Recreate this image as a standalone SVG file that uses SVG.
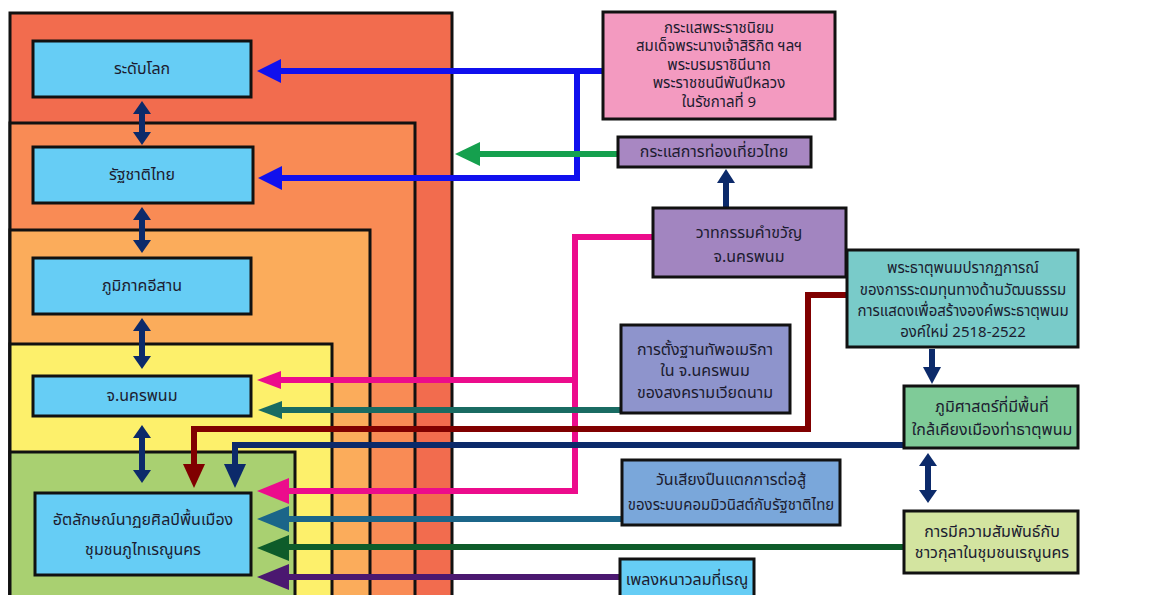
<svg xmlns="http://www.w3.org/2000/svg" width="1155" height="595" viewBox="0 0 1155 595">
<style>
.lvl{stroke:#111;stroke-width:3}
.node{stroke:#111;stroke-width:3}
.t{font-family:"Noto Sans Thai","Noto Sans","DejaVu Sans",sans-serif;font-size:16px;fill:#1c1c30;text-anchor:middle;dominant-baseline:central}
.s{font-size:15px}
.ln{fill:none;stroke-width:6;stroke-linejoin:miter}
.blue{stroke:#1010ee}.fblue{fill:#1010ee}
.green{stroke:#15a04e}.fgreen{fill:#15a04e}
.navy{stroke:#0c2a6a}.fnavy{fill:#0c2a6a}
.pink{stroke:#ec0c8c}.fpink{fill:#ec0c8c}
.teal{stroke:#196b62}.fteal{fill:#196b62}
.dred{stroke:#800000}.fdred{fill:#800000}
.bteal{stroke:#1b6589}.fbteal{fill:#1b6589}
.dgreen{stroke:#0e5c2a}.fdgreen{fill:#0e5c2a}
.purp{stroke:#4b1870}.fpurp{fill:#4b1870}
</style>
<rect width="1155" height="595" fill="#fff"/>
<g id="levels">
<rect class="lvl" x="10" y="13" width="442" height="620" fill="#f26c4e"/>
<rect class="lvl" x="10" y="123" width="405" height="520" fill="#f98b55"/>
<rect class="lvl" x="10" y="230" width="360" height="420" fill="#fbac5b"/>
<rect class="lvl" x="10" y="344" width="322" height="300" fill="#fdf06b"/>
<rect class="lvl" x="10" y="452" width="285" height="200" fill="#a9d071"/>
</g>
<g id="connectors">
<path class="ln blue" d="M604,71 H278"/>
<path class="ln blue" d="M577,71 V178 H279"/>
<polygon class="fblue" points="257,71 281,59 281,83"/>
<polygon class="fblue" points="258,178 282,166 282,190"/>
<path class="ln green" d="M618,154 H476"/>
<polygon class="fgreen" points="455,154 480,142 480,166"/>
<path class="ln navy" d="M726,208 V182"/>
<polygon class="fnavy" points="726,169 717,183 735,183"/>
<path class="ln pink" d="M653,237 H575 V491 H285"/>
<path class="ln pink" d="M575,380 H278"/>
<polygon class="fpink" points="257,380 281,371 281,389"/>
<polygon class="fpink" points="257,491 289,478 289,504"/>
<path class="ln teal" d="M621,410 H278"/>
<polygon class="fteal" points="258,410 282,401 282,419"/>
<path class="ln dred" d="M847,295 H808 V429 H194 V466"/>
<polygon class="fdred" points="194,488 183,464 205,464"/>
<path class="ln navy" d="M904,445 H235 V466"/>
<polygon class="fnavy" points="235,488 224,464 246,464"/>
<path class="ln bteal" d="M622,519 H285"/>
<polygon class="fbteal" points="257,519 289,506 289,532"/>
<path class="ln dgreen" d="M904,547 H285"/>
<polygon class="fdgreen" points="257,548 289,535 289,561"/>
<path class="ln purp" d="M620,577 H285"/>
<polygon class="fpurp" points="257,577 289,564 289,590"/>
<path class="ln navy" d="M142,110 V136"/>
<polygon class="fnavy" points="142,101 133,114 151,114"/>
<polygon class="fnavy" points="142,145 133,132 151,132"/>
<path class="ln navy" d="M142,216 V244"/>
<polygon class="fnavy" points="142,207 133,220 151,220"/>
<polygon class="fnavy" points="142,253 133,240 151,240"/>
<path class="ln navy" d="M142,327 V360"/>
<polygon class="fnavy" points="142,318 133,331 151,331"/>
<polygon class="fnavy" points="142,369 133,356 151,356"/>
<path class="ln navy" d="M142,434 V474"/>
<polygon class="fnavy" points="142,425 133,438 151,438"/>
<polygon class="fnavy" points="142,483 133,470 151,470"/>
<path class="ln navy" d="M928,462 V494"/>
<polygon class="fnavy" points="928,453 919,466 937,466"/>
<polygon class="fnavy" points="928,503 919,490 937,490"/>
<path class="ln navy" d="M932,349 V370"/>
<polygon class="fnavy" points="932,384 923,367 941,367"/>
</g>
<g id="n-world"><rect class="node" x="33" y="41" width="218" height="56" fill="#66cdf5"/><text class="t" x="142" y="69">ระดับโลก</text></g>
<g id="n-nation"><rect class="node" x="33" y="147" width="220" height="56" fill="#66cdf5"/><text class="t" x="142" y="175">รัฐชาติไทย</text></g>
<g id="n-isan"><rect class="node" x="33" y="258" width="218" height="56" fill="#66cdf5"/><text class="t" x="142" y="286">ภูมิภาคอีสาน</text></g>
<g id="n-nakhonphanom"><rect class="node" x="33" y="376" width="218" height="40" fill="#66cdf5"/><text class="t" x="142" y="396">จ.นครพนม</text></g>
<g id="n-identity"><rect class="node" x="35" y="493" width="216" height="82" fill="#66cdf5"/><text class="t" x="143" y="520">อัตลักษณ์นาฏยศิลป์พื้นเมือง</text><text class="t" x="143" y="550">ชุมชนภูไทเรณูนคร</text></g>
<g id="n-royal"><rect class="node" x="603" y="12" width="232" height="107" fill="#f39ac0"/>
<text class="t s" x="719" y="28">กระแสพระราชนิยม</text>
<text class="t s" x="719" y="46">สมเด็จพระนางเจ้าสิริกิต ฯลฯ</text>
<text class="t s" x="719" y="65">พระบรมราชินีนาถ</text>
<text class="t s" x="719" y="83">พระราชชนนีพันปีหลวง</text>
<text class="t s" x="719" y="102">ในรัชกาลที่ 9</text></g>
<g id="n-tourism"><rect class="node" x="618" y="137" width="193" height="30" fill="#a887c2"/><text class="t" x="714" y="152">กระแสการท่องเที่ยวไทย</text></g>
<g id="n-slogan"><rect class="node" x="653" y="208" width="193" height="69" fill="#a285c0"/><text class="t" x="749" y="233">วาทกรรมคำขวัญ</text><text class="t" x="749" y="257">จ.นครพนม</text></g>
<g id="n-base"><rect class="node" x="621" y="325" width="169" height="88" fill="#8e94cc"/><text class="t" x="705" y="350">การตั้งฐานทัพอเมริกา</text><text class="t" x="705" y="371">ใน จ.นครพนม</text><text class="t" x="705" y="393">ของสงครามเวียดนาม</text></g>
<g id="n-thatphanom"><rect class="node" x="847" y="250" width="231" height="97" fill="#79cbc9"/><text class="t s" x="963" y="268">พระธาตุพนมปรากฏการณ์</text><text class="t s" x="963" y="290">ของการระดมทุนทางด้านวัฒนธรรม</text><text class="t s" x="963" y="311">การแสดงเพื่อสร้างองค์พระธาตุพนม</text><text class="t s" x="963" y="332">องค์ใหม่ 2518-2522</text></g>
<g id="n-geo"><rect class="node" x="904" y="386" width="174" height="62" fill="#7fcb98"/><text class="t" x="992" y="407">ภูมิศาสตร์ที่มีพื้นที่</text><text class="t" x="992" y="430">ใกล้เคียงเมืองท่าธาตุพนม</text></g>
<g id="n-gunshot"><rect class="node" x="622" y="460" width="218" height="65" fill="#7aa7da"/><text class="t" x="731" y="480">วันเสียงปืนแตกการต่อสู้</text><text class="t s" x="731" y="505">ของระบบคอมมิวนิสต์กับรัฐชาติไทย</text></g>
<g id="n-kula"><rect class="node" x="904" y="511" width="174" height="62" fill="#d3e4a0"/><text class="t" x="992" y="532">การมีความสัมพันธ์กับ</text><text class="t" x="992" y="553">ชาวกุลาในชุมชนเรณูนคร</text></g>
<g id="n-song"><rect class="node" x="620" y="559" width="134" height="60" fill="#66cdf5"/><text class="t" x="687" y="580">เพลงหนาวลมที่เรณู</text></g>
</svg>
